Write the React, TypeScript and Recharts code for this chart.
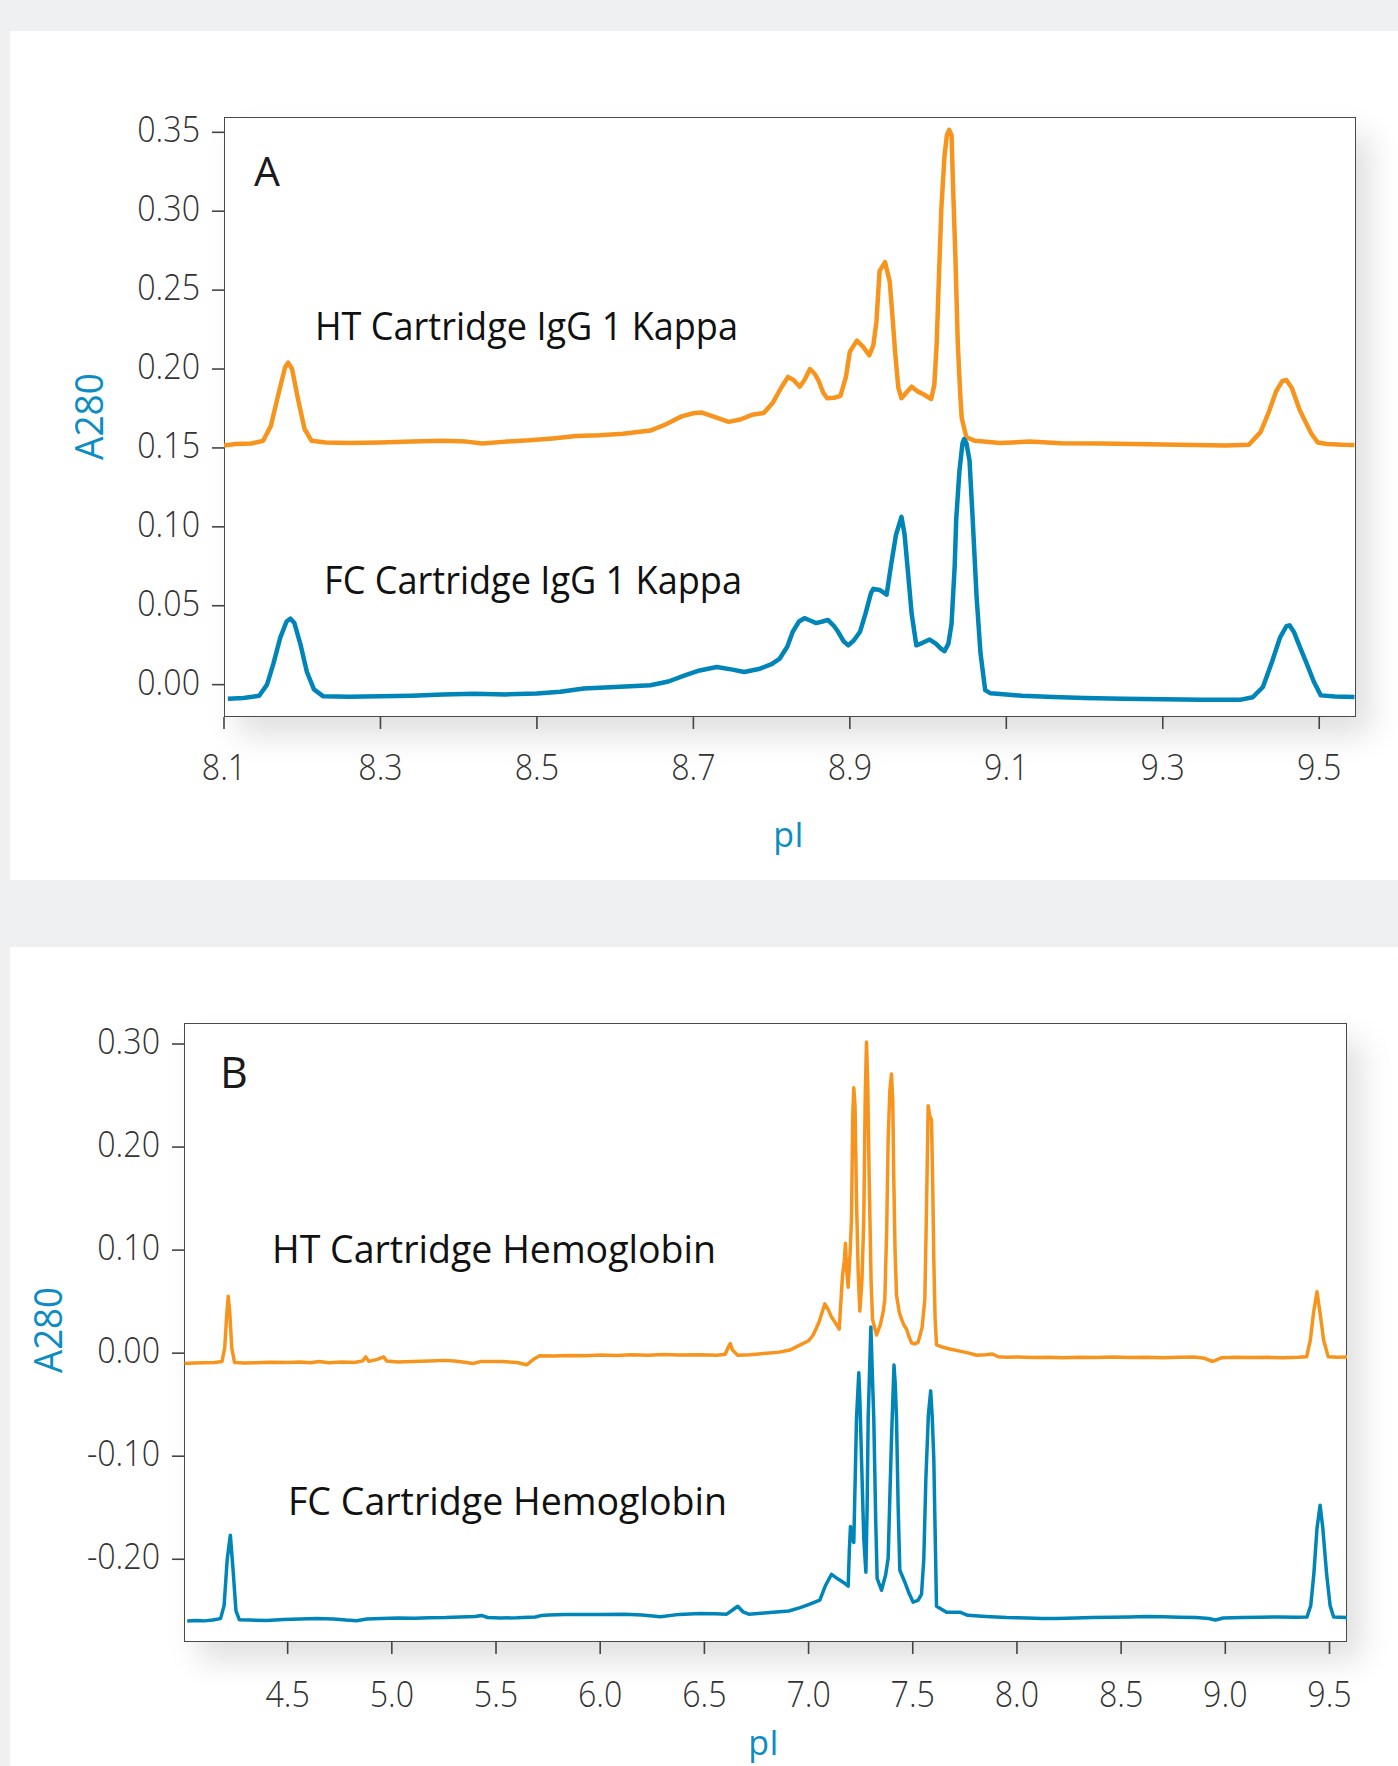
import React from 'react';
import { LineChart, Line, XAxis, YAxis } from 'recharts';

// pI / A280 traces
const htIgg: [number, number][] = [
  [8.100, 0.1515], [8.115, 0.1525], [8.135, 0.1528], [8.150, 0.1545], [8.160, 0.1640],
  [8.170, 0.1850], [8.178, 0.2010], [8.182, 0.2040], [8.187, 0.2000], [8.195, 0.1800],
  [8.203, 0.1620], [8.212, 0.1545], [8.230, 0.1535], [8.260, 0.1532], [8.300, 0.1535],
  [8.340, 0.1540], [8.380, 0.1545], [8.410, 0.1540], [8.430, 0.1528], [8.460, 0.1540],
  [8.490, 0.1548], [8.520, 0.1560], [8.550, 0.1575], [8.580, 0.1580], [8.610, 0.1590],
  [8.645, 0.1610], [8.665, 0.1650], [8.685, 0.1700], [8.700, 0.1720], [8.710, 0.1725],
  [8.725, 0.1700], [8.745, 0.1665], [8.760, 0.1680], [8.775, 0.1710], [8.790, 0.1722],
  [8.802, 0.1790], [8.812, 0.1880], [8.821, 0.1950], [8.828, 0.1930], [8.836, 0.1888],
  [8.842, 0.1930], [8.849, 0.2000], [8.855, 0.1970], [8.860, 0.1926], [8.866, 0.1850],
  [8.871, 0.1815], [8.880, 0.1818], [8.888, 0.1830], [8.895, 0.1950], [8.900, 0.2110],
  [8.909, 0.2180], [8.917, 0.2140], [8.925, 0.2087], [8.930, 0.2150], [8.934, 0.2300],
  [8.938, 0.2620], [8.945, 0.2677], [8.951, 0.2554], [8.955, 0.2300], [8.958, 0.2100],
  [8.962, 0.1880], [8.966, 0.1815], [8.972, 0.1850], [8.979, 0.1888], [8.986, 0.1860],
  [8.994, 0.1840], [9.004, 0.1810], [9.008, 0.1900], [9.011, 0.2160], [9.014, 0.2600],
  [9.017, 0.3020], [9.021, 0.3350], [9.024, 0.3480], [9.027, 0.3516], [9.030, 0.3480],
  [9.032, 0.3146], [9.035, 0.2700], [9.038, 0.2160], [9.041, 0.1850], [9.043, 0.1690],
  [9.049, 0.1568], [9.060, 0.1545], [9.092, 0.1531], [9.130, 0.1540], [9.170, 0.1530],
  [9.220, 0.1528], [9.260, 0.1525], [9.300, 0.1522], [9.340, 0.1518], [9.380, 0.1515],
  [9.410, 0.1520], [9.425, 0.1600], [9.435, 0.1720], [9.445, 0.1860], [9.453, 0.1925],
  [9.458, 0.1930], [9.465, 0.1880], [9.475, 0.1740], [9.483, 0.1660], [9.490, 0.1590],
  [9.498, 0.1535], [9.510, 0.1525], [9.530, 0.1520], [9.545, 0.1518],
];

const fcIgg: [number, number][] = [
  [8.105, -0.0090], [8.125, -0.0085], [8.145, -0.0070], [8.155, 0.0000], [8.163, 0.0130],
  [8.172, 0.0300], [8.180, 0.0400], [8.185, 0.0418], [8.190, 0.0390], [8.198, 0.0250],
  [8.206, 0.0080], [8.215, -0.0030], [8.227, -0.0074], [8.260, -0.0076], [8.300, -0.0074],
  [8.340, -0.0070], [8.380, -0.0062], [8.420, -0.0058], [8.460, -0.0062], [8.500, -0.0056],
  [8.530, -0.0045], [8.560, -0.0025], [8.600, -0.0015], [8.645, -0.0004], [8.668, 0.0020],
  [8.690, 0.0060], [8.708, 0.0090], [8.730, 0.0112], [8.750, 0.0095], [8.765, 0.0080],
  [8.785, 0.0101], [8.800, 0.0130], [8.810, 0.0163], [8.820, 0.0240], [8.827, 0.0335],
  [8.835, 0.0400], [8.842, 0.0421], [8.850, 0.0405], [8.857, 0.0390], [8.865, 0.0400],
  [8.872, 0.0410], [8.880, 0.0370], [8.885, 0.0335], [8.892, 0.0275], [8.898, 0.0249],
  [8.905, 0.0280], [8.913, 0.0335], [8.920, 0.0450], [8.927, 0.0580], [8.930, 0.0607],
  [8.938, 0.0600], [8.947, 0.0570], [8.953, 0.0767], [8.959, 0.0950], [8.966, 0.1063],
  [8.970, 0.0950], [8.974, 0.0730], [8.979, 0.0450], [8.985, 0.0249], [8.993, 0.0265],
  [9.002, 0.0286], [9.010, 0.0260], [9.016, 0.0230], [9.021, 0.0212], [9.026, 0.0260],
  [9.030, 0.0385], [9.034, 0.0750], [9.036, 0.1050], [9.040, 0.1350], [9.044, 0.1530],
  [9.046, 0.1556], [9.049, 0.1530], [9.053, 0.1420], [9.057, 0.1050], [9.062, 0.0557],
  [9.067, 0.0200], [9.073, -0.0035], [9.080, -0.0055], [9.092, -0.0060], [9.120, -0.0070],
  [9.160, -0.0078], [9.200, -0.0085], [9.250, -0.0090], [9.300, -0.0092], [9.350, -0.0095],
  [9.400, -0.0095], [9.415, -0.0080], [9.428, -0.0015], [9.440, 0.0150], [9.450, 0.0300],
  [9.458, 0.0370], [9.462, 0.0376], [9.468, 0.0330], [9.476, 0.0230], [9.484, 0.0133],
  [9.493, 0.0020], [9.502, -0.0068], [9.520, -0.0075], [9.545, -0.0079],
];

const htHb: [number, number][] = [
  [4.005, -0.0100], [4.050, -0.0095], [4.100, -0.0092], [4.150, -0.0090], [4.185, -0.0080],
  [4.198, 0.0050], [4.207, 0.0350], [4.215, 0.0553], [4.222, 0.0400], [4.232, 0.0050],
  [4.245, -0.0090], [4.290, -0.0095], [4.350, -0.0093], [4.420, -0.0088], [4.500, -0.0090],
  [4.560, -0.0085], [4.610, -0.0092], [4.650, -0.0082], [4.700, -0.0092], [4.760, -0.0085],
  [4.820, -0.0090], [4.860, -0.0075], [4.875, -0.0036], [4.890, -0.0080], [4.930, -0.0060],
  [4.960, -0.0036], [4.975, -0.0075], [5.030, -0.0085], [5.100, -0.0082], [5.180, -0.0075],
  [5.250, -0.0070], [5.300, -0.0075], [5.340, -0.0085], [5.390, -0.0100], [5.430, -0.0080],
  [5.480, -0.0080], [5.530, -0.0082], [5.600, -0.0090], [5.647, -0.0113], [5.680, -0.0060],
  [5.710, -0.0026], [5.780, -0.0028], [5.850, -0.0022], [5.930, -0.0025], [6.000, -0.0018],
  [6.080, -0.0022], [6.150, -0.0015], [6.230, -0.0020], [6.300, -0.0012], [6.380, -0.0018],
  [6.478, -0.0015], [6.560, -0.0020], [6.600, -0.0010], [6.615, 0.0060], [6.624, 0.0094],
  [6.635, 0.0030], [6.660, -0.0020], [6.720, -0.0015], [6.800, 0.0000], [6.860, 0.0010],
  [6.910, 0.0030], [6.960, 0.0080], [7.000, 0.0120], [7.022, 0.0176], [7.050, 0.0300],
  [7.078, 0.0478], [7.095, 0.0420], [7.110, 0.0350], [7.130, 0.0290], [7.147, 0.0234],
  [7.163, 0.0757], [7.172, 0.0900], [7.177, 0.1066], [7.183, 0.0800], [7.190, 0.0640],
  [7.200, 0.1000], [7.206, 0.1298], [7.212, 0.2300], [7.217, 0.2575], [7.223, 0.2400],
  [7.230, 0.1490], [7.238, 0.0800], [7.246, 0.0408], [7.256, 0.0700], [7.265, 0.1298],
  [7.272, 0.2500], [7.278, 0.3020], [7.284, 0.2600], [7.291, 0.1685], [7.300, 0.0700],
  [7.307, 0.0330], [7.326, 0.0176], [7.345, 0.0280], [7.358, 0.0400], [7.366, 0.0524],
  [7.375, 0.1200], [7.382, 0.2072], [7.390, 0.2550], [7.398, 0.2710], [7.404, 0.2450],
  [7.409, 0.1685], [7.415, 0.1000], [7.422, 0.0563], [7.435, 0.0400], [7.446, 0.0330],
  [7.458, 0.0270], [7.470, 0.0234], [7.482, 0.0160], [7.494, 0.0099], [7.510, 0.0090],
  [7.526, 0.0107], [7.545, 0.0250], [7.558, 0.0524], [7.566, 0.1400], [7.574, 0.2401],
  [7.582, 0.2300], [7.590, 0.2266], [7.596, 0.1600], [7.601, 0.0912], [7.607, 0.0350],
  [7.614, 0.0080], [7.640, 0.0060], [7.678, 0.0040], [7.726, 0.0020], [7.770, 0.0000],
  [7.807, -0.0020], [7.850, -0.0015], [7.882, -0.0008], [7.910, -0.0035], [7.950, -0.0040],
  [8.000, -0.0038], [8.080, -0.0042], [8.150, -0.0040], [8.220, -0.0045], [8.300, -0.0040],
  [8.380, -0.0043], [8.460, -0.0038], [8.540, -0.0042], [8.620, -0.0040], [8.700, -0.0045],
  [8.780, -0.0040], [8.850, -0.0038], [8.900, -0.0050], [8.940, -0.0081], [8.980, -0.0045],
  [9.050, -0.0040], [9.120, -0.0042], [9.200, -0.0040], [9.280, -0.0045], [9.350, -0.0040],
  [9.390, -0.0035], [9.408, 0.0126], [9.424, 0.0400], [9.440, 0.0595], [9.454, 0.0400],
  [9.472, 0.0126], [9.494, -0.0036], [9.540, -0.0040], [9.585, -0.0036],
];

const fcHb: [number, number][] = [
  [4.018, -0.2600], [4.060, -0.2595], [4.100, -0.2598], [4.140, -0.2590], [4.178, -0.2576],
  [4.195, -0.2450], [4.210, -0.2000], [4.225, -0.1767], [4.238, -0.2100], [4.252, -0.2500],
  [4.268, -0.2586], [4.320, -0.2590], [4.400, -0.2595], [4.480, -0.2585], [4.560, -0.2580],
  [4.640, -0.2575], [4.720, -0.2580], [4.780, -0.2590], [4.831, -0.2596], [4.880, -0.2580],
  [4.950, -0.2575], [5.030, -0.2570], [5.110, -0.2572], [5.180, -0.2568], [5.258, -0.2566],
  [5.330, -0.2560], [5.400, -0.2555], [5.430, -0.2545], [5.460, -0.2565], [5.520, -0.2570],
  [5.600, -0.2568], [5.689, -0.2560], [5.720, -0.2545], [5.753, -0.2540], [5.830, -0.2536],
  [5.920, -0.2535], [6.000, -0.2536], [6.118, -0.2534], [6.200, -0.2542], [6.289, -0.2557],
  [6.380, -0.2535], [6.478, -0.2527], [6.550, -0.2530], [6.607, -0.2533], [6.630, -0.2500],
  [6.660, -0.2456], [6.685, -0.2510], [6.713, -0.2533], [6.800, -0.2520], [6.905, -0.2502],
  [6.960, -0.2470], [7.000, -0.2440], [7.054, -0.2397], [7.080, -0.2260], [7.110, -0.2146],
  [7.140, -0.2190], [7.166, -0.2223], [7.190, -0.2262], [7.196, -0.1900], [7.201, -0.1682],
  [7.210, -0.1800], [7.217, -0.1836], [7.224, -0.1200], [7.230, -0.0637], [7.241, -0.0191],
  [7.247, -0.0500], [7.254, -0.1023], [7.265, -0.1800], [7.275, -0.2126], [7.281, -0.1500],
  [7.286, -0.0637], [7.299, 0.0253], [7.306, -0.0200], [7.313, -0.0637], [7.322, -0.1600],
  [7.329, -0.2185], [7.350, -0.2301], [7.370, -0.2150], [7.382, -0.1990], [7.390, -0.1400],
  [7.398, -0.0830], [7.410, -0.0115], [7.416, -0.0300], [7.422, -0.0637], [7.430, -0.1500],
  [7.438, -0.2107], [7.462, -0.2223], [7.480, -0.2320], [7.502, -0.2417], [7.525, -0.2400],
  [7.542, -0.2340], [7.553, -0.2000], [7.563, -0.1217], [7.575, -0.0600], [7.586, -0.0366],
  [7.593, -0.0600], [7.601, -0.1023], [7.608, -0.1800], [7.614, -0.2455], [7.662, -0.2514],
  [7.726, -0.2514], [7.764, -0.2544], [7.850, -0.2555], [7.950, -0.2565], [8.050, -0.2570],
  [8.120, -0.2574], [8.192, -0.2576], [8.280, -0.2570], [8.360, -0.2566], [8.450, -0.2562],
  [8.540, -0.2560], [8.619, -0.2556], [8.700, -0.2558], [8.780, -0.2562], [8.860, -0.2566],
  [8.920, -0.2575], [8.953, -0.2590], [8.990, -0.2570], [9.080, -0.2565], [9.170, -0.2562],
  [9.260, -0.2560], [9.340, -0.2562], [9.392, -0.2560], [9.410, -0.2450], [9.425, -0.2139],
  [9.440, -0.1700], [9.455, -0.1476], [9.468, -0.1700], [9.486, -0.2139], [9.503, -0.2450],
  [9.520, -0.2560], [9.586, -0.2566],
];

const iggXTicks = [8.1, 8.3, 8.5, 8.7, 8.9, 9.1, 9.3, 9.5];
const iggYTicks = [0, 0.05, 0.1, 0.15, 0.2, 0.25, 0.3, 0.35];
const hbXTicks = [4.5, 5.0, 5.5, 6.0, 6.5, 7.0, 7.5, 8.0, 8.5, 9.0, 9.5];
const hbYTicks = [-0.2, -0.1, 0, 0.1, 0.2, 0.3];

const ORANGE = '#f7941e';
const BLUE = '#0085b9';
const LABEL_BLUE = '#0b8dc4';
const FONT = "'Open Sans', 'Noto Sans', sans-serif";

const toRows = (pts: [number, number][]) => pts.map(([x, y]) => ({ x, y }));

// Myriad-like condensed tick text: Open Sans squeezed horizontally
const AxisTick = (props: any) => {
  const { x, y, payload, digits, vertical } = props;
  return (
    <g transform={`translate(${x},${y})`}>
      <text
        transform="scale(0.87,1)"
        textAnchor={vertical ? 'end' : 'middle'}
        dy={vertical ? 10 : 27}
        fontFamily={FONT}
        fontSize={37}
        fontWeight={300}
        fill="#333"
      >
        {Number(payload.value).toFixed(digits)}
      </text>
    </g>
  );
};

const tickLine = { stroke: '#444', strokeWidth: 1.6 };

const PlotFrame = ({ left, top, right, bottom }: any) => (
  <div
    style={{
      position: 'absolute',
      left,
      top,
      width: right - left,
      height: bottom - top,
      boxSizing: 'border-box',
      background: '#fff',
      border: '1.6px solid #4a4a4a',
      boxShadow: '14px 18px 30px rgba(0,0,0,0.13)',
    }}
  />
);

export default function App() {
  return (
    <div
      style={{
        position: 'absolute',
        left: 0,
        top: 0,
        width: 1398,
        height: 1766,
        background: '#eff0f2',
        overflow: 'hidden',
        fontFamily: FONT,
      }}
    >
      {/* white panels */}
      <div style={{ position: 'absolute', left: 10, top: 31, width: 1388, height: 849, background: '#fff' }} />
      <div style={{ position: 'absolute', left: 10, top: 947, width: 1388, height: 819, background: '#fff' }} />

      <PlotFrame left={224} top={117} right={1356} bottom={717} />
      <PlotFrame left={184} top={1023} right={1347} bottom={1642} />

      {/* Panel A: IgG 1 Kappa */}
      <div style={{ position: 'absolute', left: 0, top: 0 }}>
        <LineChart width={1398} height={880} margin={{ top: 117, right: 42, bottom: 103, left: 124 }}>
          <XAxis
            type="number"
            dataKey="x"
            domain={[8.1, 9.547]}
            ticks={iggXTicks}
            interval={0}
            allowDataOverflow
            height={60}
            axisLine={false}
            tickLine={tickLine}
            tickSize={12}
            tickMargin={24}
            tick={(p: any) => <AxisTick {...p} digits={1} />}
          />
          <YAxis
            type="number"
            dataKey="y"
            domain={[-0.0205, 0.3597]}
            ticks={iggYTicks}
            interval={0}
            allowDataOverflow
            width={100}
            axisLine={false}
            tickLine={tickLine}
            tickSize={12}
            tickMargin={12}
            tick={(p: any) => <AxisTick {...p} digits={2} vertical />}
          />
          <Line data={toRows(htIgg)} dataKey="y" stroke={ORANGE} strokeWidth={4.5} dot={false} activeDot={false} isAnimationActive={false} strokeLinejoin="round" />
          <Line data={toRows(fcIgg)} dataKey="y" stroke={BLUE} strokeWidth={4.5} dot={false} activeDot={false} isAnimationActive={false} strokeLinejoin="round" />
        </LineChart>
      </div>

      {/* Panel B: Hemoglobin */}
      <div style={{ position: 'absolute', left: 0, top: 947 }}>
        <LineChart width={1398} height={819} margin={{ top: 76, right: 51, bottom: 64, left: 84 }}>
          <XAxis
            type="number"
            dataKey="x"
            domain={[4.0026, 9.584]}
            ticks={hbXTicks}
            interval={0}
            allowDataOverflow
            height={60}
            axisLine={false}
            tickLine={tickLine}
            tickSize={12}
            tickMargin={26}
            tick={(p: any) => <AxisTick {...p} digits={1} />}
          />
          <YAxis
            type="number"
            dataKey="y"
            domain={[-0.2803, 0.3204]}
            ticks={hbYTicks}
            interval={0}
            allowDataOverflow
            width={100}
            axisLine={false}
            tickLine={tickLine}
            tickSize={12}
            tickMargin={12}
            tick={(p: any) => <AxisTick {...p} digits={2} vertical />}
          />
          <Line data={toRows(htHb)} dataKey="y" stroke={ORANGE} strokeWidth={3.5} dot={false} activeDot={false} isAnimationActive={false} strokeLinejoin="round" />
          <Line data={toRows(fcHb)} dataKey="y" stroke={BLUE} strokeWidth={3.5} dot={false} activeDot={false} isAnimationActive={false} strokeLinejoin="round" />
        </LineChart>
      </div>

      {/* annotations and axis titles */}
      <svg
        width={1398}
        height={1766}
        style={{ position: 'absolute', left: 0, top: 0, pointerEvents: 'none' }}
        fontFamily={FONT}
      >
        <text x={254} y={186} fontSize={41} fill="#1a1a1a">A</text>
        <text x={315} y={340} fontSize={38} fill="#111" textLength={423} lengthAdjust="spacingAndGlyphs">HT Cartridge IgG 1 Kappa</text>
        <text x={324} y={594} fontSize={38} fill="#111" textLength={418} lengthAdjust="spacingAndGlyphs">FC Cartridge IgG 1 Kappa</text>
        <text transform="translate(103,416.5) rotate(-90)" textAnchor="middle" fontSize={38} fill={LABEL_BLUE} textLength={87} lengthAdjust="spacingAndGlyphs">A280</text>
        <text x={788.5} y={847} textAnchor="middle" fontSize={34} fill={LABEL_BLUE}>pI</text>

        <text x={220} y={1088} fontSize={43} fill="#1a1a1a">B</text>
        <text x={272} y={1263} fontSize={39} fill="#111" textLength={444} lengthAdjust="spacingAndGlyphs">HT Cartridge Hemoglobin</text>
        <text x={288} y={1515} fontSize={39} fill="#111" textLength={439} lengthAdjust="spacingAndGlyphs">FC Cartridge Hemoglobin</text>
        <text transform="translate(62,1330) rotate(-90)" textAnchor="middle" fontSize={38} fill={LABEL_BLUE} textLength={86} lengthAdjust="spacingAndGlyphs">A280</text>
        <text x={763.5} y={1755} textAnchor="middle" fontSize={34} fill={LABEL_BLUE}>pI</text>
      </svg>
    </div>
  );
}
